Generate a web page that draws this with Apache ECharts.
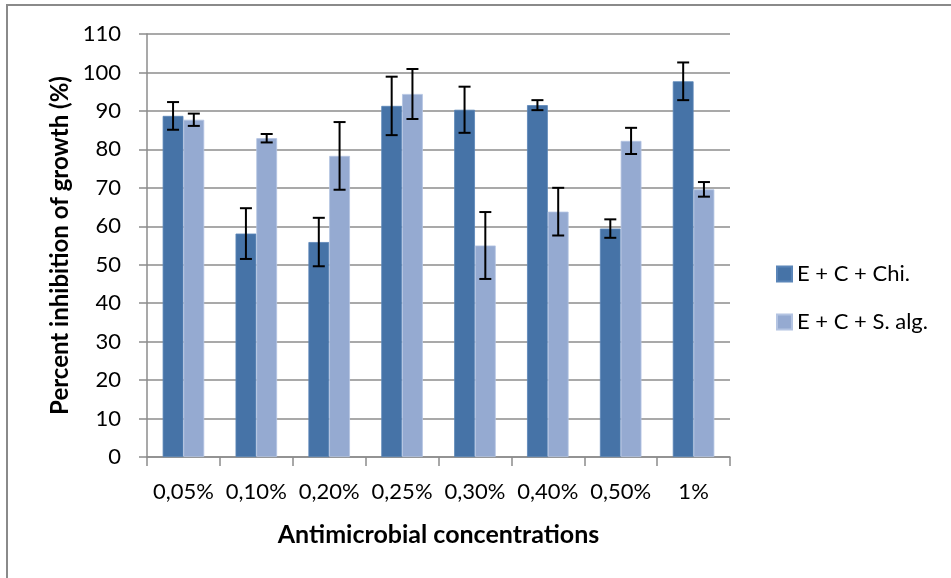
<!DOCTYPE html>
<html>
<head>
<meta charset="utf-8">
<script src="https://cdn.jsdelivr.net/npm/echarts@6/dist/echarts.min.js"></script>
<style>
html,body{margin:0;padding:0;background:#fff;}
#chart{width:951px;height:578px;}
</style>
</head>
<body>
<div id="chart"></div>
<script>
const categories = ['0,05%', '0,10%', '0,20%', '0,25%', '0,30%', '0,40%', '0,50%', '1%'];
const seriesNames = ['E + C + Chi.', 'E + C + S. alg.'];
const chiValues = [88.7, 58.1, 55.9, 91.3, 90.3, 91.5, 59.4, 97.7];
const chiErrors = [3.6, 6.6, 6.3, 7.6, 6.0, 1.3, 2.4, 4.9];
const algValues = [87.7, 82.9, 78.3, 94.4, 55.0, 63.8, 82.2, 69.6];
const algErrors = [1.6, 1.1, 8.8, 6.5, 8.7, 6.2, 3.4, 1.9];
const yTicks = [0, 10, 20, 30, 40, 50, 60, 70, 80, 90, 100, 110];

const darkColor = '#4673A7';
const lightColor = '#95AAD1';
const gridColor = '#8C8C8C';
const catGap = 0.43;
const FONT = 'Lato';

function errData(vals, errs) {
  return vals.map((v, i) => [i, v - errs[i], v + errs[i]]);
}

function errRender(side) {
  return function (params, api) {
    const idx = api.value(0);
    const band = api.size([1, 0])[0];
    const w = band * (1 - catGap) / 2;
    const cx = api.coord([idx, 0])[0] + side * w / 2;
    const yLo = api.coord([idx, api.value(1)])[1];
    const yHi = api.coord([idx, api.value(2)])[1];
    const cap = 6;
    const style = { stroke: '#000', lineWidth: 2 };
    return {
      type: 'group',
      children: [
        { type: 'line', shape: { x1: cx, y1: yLo, x2: cx, y2: yHi }, style },
        { type: 'line', shape: { x1: cx - cap, y1: yHi, x2: cx + cap, y2: yHi }, style },
        { type: 'line', shape: { x1: cx - cap, y1: yLo, x2: cx + cap, y2: yLo }, style }
      ]
    };
  };
}

const chart = echarts.init(document.getElementById('chart'), null, { renderer: 'canvas' });
chart.setOption({
  animation: false,
  backgroundColor: '#fff',
  graphic: [{
    type: 'rect',
    shape: { x: 7, y: 5, width: 1100, height: 1000 },
    style: { fill: 'none', stroke: '#8A8A8A', lineWidth: 2 },
    silent: true
  }],
  grid: { left: 147, right: 221, top: 34, bottom: 121, containLabel: false },
  legend: {
    orient: 'vertical',
    left: 771,
    top: 257,
    itemWidth: 15,
    itemHeight: 15,
    itemGap: 24,
    icon: 'rect',
    data: seriesNames,
    textStyle: { fontFamily: FONT, fontSize: 22, color: '#000', lineHeight: 24 }
  },
  xAxis: {
    type: 'category',
    data: categories,
    boundaryGap: true,
    name: 'Antimicrobial concentrations',
    nameLocation: 'middle',
    nameGap: 65,
    nameTextStyle: { fontFamily: FONT, fontSize: 25, fontWeight: 'bold', color: '#000' },
    axisLine: { lineStyle: { color: gridColor, width: 1.5 } },
    axisTick: { show: true, length: 9, lineStyle: { color: gridColor, width: 1.5 } },
    axisLabel: { fontFamily: FONT, fontSize: 22, color: '#000', margin: 24, interval: 0 },
    splitLine: { show: false }
  },
  yAxis: {
    type: 'value',
    min: 0,
    max: 110,
    interval: 10,
    name: 'Percent inhibition of growth (%)',
    nameLocation: 'middle',
    nameGap: 75,
    nameTextStyle: { fontFamily: FONT, fontSize: 24, fontWeight: 'bold', color: '#000' },
    axisLine: { show: true, lineStyle: { color: gridColor, width: 1.5 } },
    axisTick: { show: true, length: 8, inside: false, lineStyle: { color: gridColor, width: 1.5 } },
    axisLabel: {
      fontFamily: FONT, fontSize: 22, color: '#000', margin: 26,
      formatter: v => (yTicks.indexOf(v) >= 0 ? String(v) : '')
    },
    splitLine: { show: true, lineStyle: { color: gridColor, width: 1.5 } }
  },
  series: [
    {
      name: seriesNames[0], type: 'bar', data: chiValues,
      barGap: '0%', barCategoryGap: (catGap * 100) + '%',
      itemStyle: { color: darkColor, borderColor: '#5A85B8', borderWidth: 0.8 },
      z: 2
    },
    {
      name: seriesNames[1], type: 'bar', data: algValues,
      barGap: '0%', barCategoryGap: (catGap * 100) + '%',
      itemStyle: { color: lightColor, borderColor: '#B4C4E2', borderWidth: 0.8 },
      z: 2
    },
    {
      type: 'custom', name: 'errChi', data: errData(chiValues, chiErrors),
      renderItem: errRender(-1), encode: { x: 0, y: [1, 2] }, z: 5, silent: true
    },
    {
      type: 'custom', name: 'errAlg', data: errData(algValues, algErrors),
      renderItem: errRender(1), encode: { x: 0, y: [1, 2] }, z: 5, silent: true
    }
  ]
});
</script>
</body>
</html>
